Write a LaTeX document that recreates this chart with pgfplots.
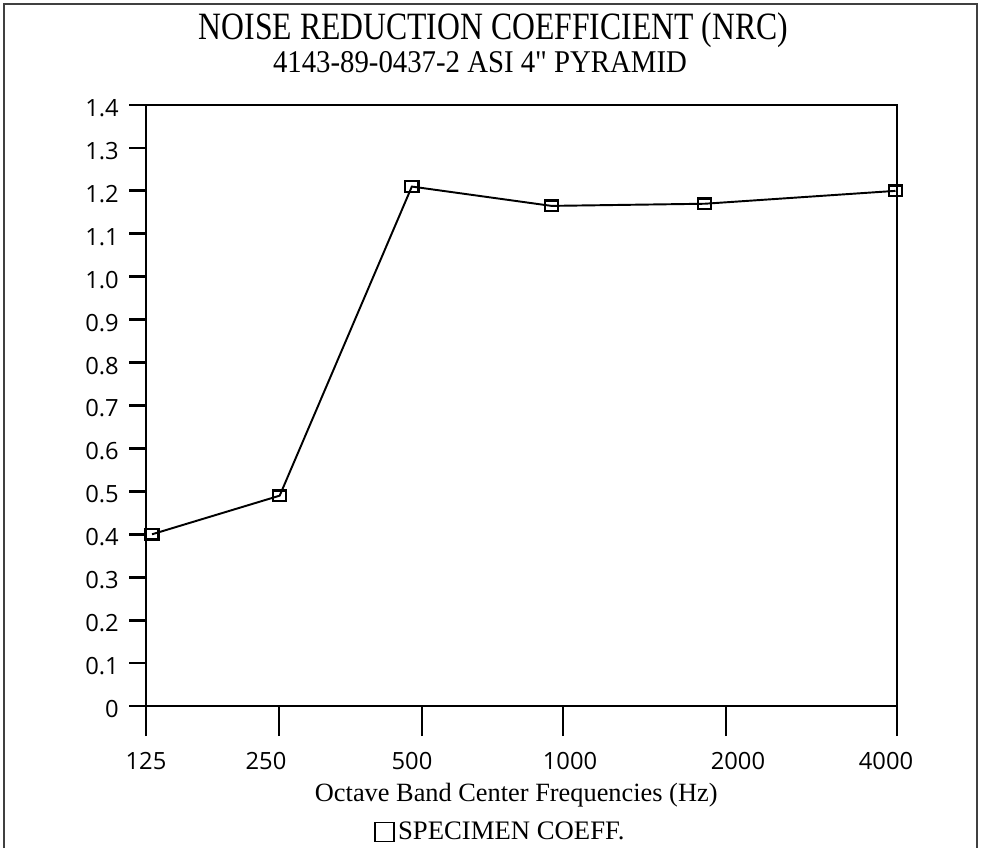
\documentclass[border=0pt]{standalone}
\usepackage{fontspec}
\setmainfont{Liberation Serif}
\newfontfamily\tickfont{Open Sans}
\newfontfamily\titlefont[FakeStretch=0.82]{Liberation Serif}
\newfontfamily\subfont[FakeStretch=0.91]{Liberation Serif}
\usepackage{pgfplots}
\pgfplotsset{compat=1.18}
\begin{document}
\begin{tikzpicture}
\useasboundingbox (0,0) rectangle (19.62,-16.96);
\draw[line width=0.9pt, black!75] (0.08,-16.96) -- (0.08,-0.08) -- (19.54,-0.08) -- (19.54,-16.96);
\begin{axis}[
  at={(2.92cm,-14.12cm)}, anchor=south west,
  scale only axis, width=15.02cm, height=12.02cm,
  xmin=0, xmax=5, ymin=0, ymax=1.4,
  clip=false,
  axis line style={line width=1.6pt},
  xtick pos=bottom, ytick pos=left,
  xtick={0,0.885,1.838,2.776,3.862,5},
  xticklabels={},
  extra x ticks={0,0.799,1.771,2.823,3.941,4.927},
  extra x tick labels={125,250,500,1000,2000,4000},
  extra x tick style={major tick length=0pt, tick style={draw=none}},
  ytick={0,0.1,0.2,0.3,0.4,0.5,0.6,0.7,0.8,0.9,1.0,1.1,1.2,1.3,1.4},
  yticklabels={0,0.1,0.2,0.3,0.4,0.5,0.6,0.7,0.8,0.9,1.0,1.1,1.2,1.3,1.4},
  tick align=outside,
  major tick length=0.34cm,
  xtick style={/pgfplots/major tick length=0.6cm},
  every tick/.style={black, line width=1.6pt},
  tick label style={font=\tickfont\fontsize{13.5}{16}\selectfont},
  xticklabel style={yshift=-0.8cm},
  yticklabel style={xshift=-0.08cm, yshift=-0.06cm},
  /pgf/number format/assume math mode=true,
  xlabel={Octave Band Center Frequencies (Hz)},
  xlabel style={font=\fontsize{15}{18}\selectfont, at={(axis description cs:0.493,-0.148)}, anchor=center},
  legend style={at={(axis description cs:0.473,-0.21)}, anchor=center, draw=none, fill=none,
    font=\fontsize{15.2}{18}\selectfont, inner sep=0pt},
  legend image code/.code={\draw[line width=0.7pt, black] (-0.1cm,-0.19cm) rectangle (0.28cm,0.19cm);},
]
\addplot[black, line width=1.1pt, mark=square, mark size=3.0pt, mark options={line width=1.3pt, xscale=1.25}]
  coordinates {(0.04,0.40) (0.89,0.49) (1.77,1.21) (2.70,1.165) (3.72,1.17) (4.99,1.20)};
\addlegendentry{SPECIMEN COEFF.}
\end{axis}
\node at (9.87,-0.6) {\titlefont\fontsize{22}{26}\selectfont NOISE REDUCTION COEFFICIENT (NRC)};
\node at (9.6,-1.24) {\subfont\fontsize{18}{21}\selectfont 4143-89-0437-2 ASI 4" PYRAMID};
\end{tikzpicture}
\end{document}
